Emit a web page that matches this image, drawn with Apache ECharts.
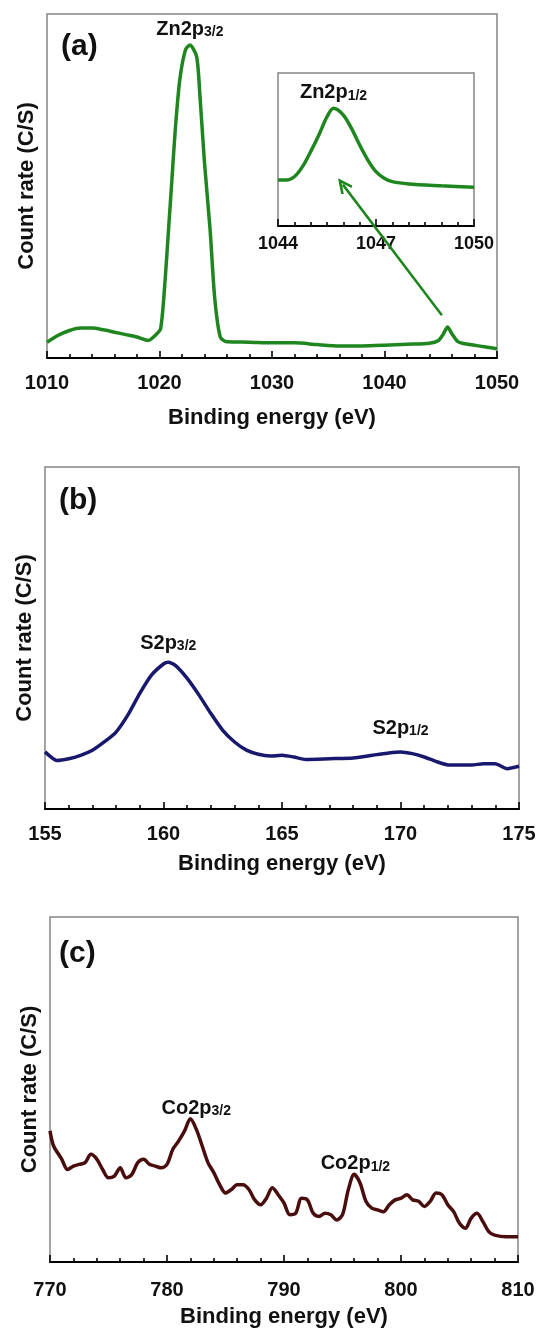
<!DOCTYPE html>
<html>
<head>
<meta charset="utf-8">
<script src="https://cdn.jsdelivr.net/npm/echarts@6/dist/echarts.min.js"></script>
<style>
html,body{margin:0;padding:0;background:#fff;}
#chart{width:542px;height:1329px;}
</style>
</head>
<body>
<div id="chart"></div>
<script>
// ---------- DATA ----------
// (a) Zn 2p survey
const zincX = [1010,1011,1012,1013,1014,1015,1016,1017,1018,1019,1019.6,1020.1,1020.5,1020.8,1021.1,1021.4,1021.8,1022.3,1022.7,1023.3,1023.6,1024.0,1024.5,1024.9,1025.4,1026,1028,1030,1032,1034,1036,1038,1040,1042,1044,1044.8,1045.2,1045.6,1046,1046.5,1047,1048,1049,1050];
const zincY = [4.6,6.6,8.0,8.7,8.7,8.2,7.5,6.8,6.1,5.1,6.5,8.5,22.7,37.2,51.7,66.3,80.8,89.5,91,87.6,76,56.7,37.2,17.7,6.1,4.7,4.6,4.4,4.4,3.9,3.5,3.5,3.7,4.0,4.3,5.1,6.8,9.0,7.0,4.8,4.2,3.7,3.2,2.7];
// (a) inset Zn 2p1/2
const insetX = [1044,1044.25,1044.5,1044.75,1045,1045.25,1045.5,1045.7,1046,1046.25,1046.5,1046.75,1047,1047.25,1047.5,1048,1049,1050];
const insetY = [30.1,30.1,32.2,38.8,48.6,59.5,71.4,76.9,72.5,63.8,52.9,43.1,35.5,31.2,29,27.5,26.3,25.3];
// (b) S 2p
const sulfX = [155,155.5,156,156.5,157,157.5,158,158.5,159,159.5,160,160.2,160.5,161,161.5,162,162.5,163,163.5,164,164.5,165,165.5,166,167,168,169,169.5,170,170.5,171,171.5,172,172.5,173,173.5,174,174.5,175];
const sulfY = [16.7,14.2,14.7,15.7,17.2,19.6,22.5,27.5,33.8,39.2,42.4,42.9,42,38.2,33.3,27.9,23,19.6,17.2,16,15.5,15.7,15.2,14.5,14.7,14.9,15.9,16.4,16.7,16.2,15.2,13.9,12.9,12.9,12.9,13.2,13.2,11.8,12.5];
// (c) Co 2p
const cobX = [770,770.3,771,771.5,772,772.5,773,773.5,774,774.5,775,775.5,776,776.5,777,777.5,778,778.5,779,779.5,780,780.5,781,781.5,782,782.5,783,783.5,784,784.5,785,785.5,786,786.5,787,787.5,788,788.5,789,789.5,790,790.5,791,791.5,792,792.5,793,793.5,794,794.5,795,795.5,796,796.5,797,797.5,798,798.5,799,799.5,800,800.5,801,801.5,802,802.5,803,803.5,804,804.5,805,805.5,806,806.5,807,807.5,808,809,810];
const cobY = [38,33.7,29.8,26.8,27.8,28.3,28.8,31.2,29.8,26.8,24.4,24.9,27.3,24.4,25.4,28.8,29.8,28.3,27.8,27.3,28.3,32.7,35.1,38,41.5,38.5,33.7,28.8,25.9,22.4,20,21,22.4,22.4,21,18,16.6,18.5,21.5,19.5,17.1,13.7,14.1,18.5,18,14.1,13.2,14.1,13.7,12.2,13.7,21,25.4,22.9,17.6,15.6,15.1,14.6,16.6,18,18.5,19.5,18,17.6,16.1,17.6,20,19.5,16.6,14.6,11.2,9.8,12.7,14.1,11.7,8.8,7.8,7.3,7.3];

// axis ranges / ticks
const axisA = {min:1010, max:1050, interval:10, minor:5};
const axisInset = {min:1044, max:1050, interval:3, minor:6};
const axisB = {min:155, max:175, interval:5, minor:5};
const axisC = {min:770, max:810, interval:10, minor:5};

// peak annotations [x, y, main, sub]
const peakA = [1022.7, 95.5, 'Zn2p', '3/2'];
const peakInset = [1045.7, 87, 'Zn2p', '1/2'];
const peaksB = [[160.2, 48.5, 'S2p', '3/2'], [170.0, 23.5, 'S2p', '1/2']];
const peaksC = [[782.5, 44.5, 'Co2p', '3/2'], [796.1, 28.5, 'Co2p', '1/2']];
// arrow in (a): from small peak to inset
const arrowA = [[1045.1, 12.4], [1036.3, 50.4]];

const xTitle = 'Binding energy (eV)';
const yTitle = 'Count rate (C/S)';

// ---------- STYLE ----------
const F = '"Liberation Sans", Arial, Helvetica, sans-serif';
const GREEN = '#1f861f', NAVY = '#18186e', BROWN = '#4a0d0d';

function pairs(xs, ys){ return xs.map((x,i)=>[x, ys[i]]); }

function xAxisCfg(gi, ax, withName, fs, margin, gap){
  return {
    type:'value', gridIndex:gi, min:ax.min, max:ax.max, interval:ax.interval,
    axisLine:{show:true, onZero:false, lineStyle:{color:'#000', width:2}},
    axisTick:{show:true, inside:true, length:7, lineStyle:{color:'#000', width:1.6}},
    minorTick:{show:true, splitNumber:ax.minor, length:4, lineStyle:{color:'#000', width:1.6}},
    axisLabel:{fontSize:fs, fontWeight:'bold', color:'#111', fontFamily:F, margin:margin,
      formatter:function(v){ return String(v); }},
    splitLine:{show:false}, minorSplitLine:{show:false},
    name: withName ? xTitle : '', nameLocation:'middle', nameGap:gap,
    nameTextStyle:{fontSize:22, fontWeight:'bold', color:'#111', fontFamily:F}
  };
}
function yAxisCfg(gi, withName){
  return {
    type:'value', gridIndex:gi, min:0, max:100,
    axisLine:{show:false}, axisTick:{show:false}, axisLabel:{show:false},
    splitLine:{show:false},
    name: withName ? yTitle : '', nameLocation:'middle', nameGap:9, nameRotate:90,
    nameTextStyle:{fontSize:22, fontWeight:'bold', color:'#111', fontFamily:F}
  };
}
const rich = {
  m:{fontSize:20, fontWeight:'bold', color:'#111', fontFamily:F},
  s:{fontSize:14, fontWeight:'bold', color:'#111', fontFamily:F, verticalAlign:'bottom', padding:[6,0,0,0]}
};
function peakPoint(p){
  return {coord:[p[0], p[1]], symbol:'circle', symbolSize:1, itemStyle:{color:'rgba(0,0,0,0)'},
    label:{show:true, position:'inside', formatter:'{m|'+p[2]+'}{s|'+p[3]+'}', rich:rich}};
}
function markPts(list){
  return {silent:true, data:list.map(peakPoint), animation:false};
}

const grids = [
  {left:47, top:14, width:450, height:344},
  {left:278, top:73, width:196, height:153},
  {left:45, top:467, width:474, height:342},
  {left:50, top:917, width:468, height:350}
].map(g => Object.assign({show:true, borderColor:'#858585', borderWidth:1.5, backgroundColor:'transparent', containLabel:false}, g));

const chevron = 'path://M10,0 L20,17 L17,19 L10,7 L3,19 L0,17 Z';

const option = {
  animation:false,
  backgroundColor:'#fff',
  grid:grids,
  xAxis:[xAxisCfg(0, axisA, true, 20, 15, 49), xAxisCfg(1, axisInset, false, 18, 9, 0),
         xAxisCfg(2, axisB, true, 20, 15, 44), xAxisCfg(3, axisC, true, 20, 18, 44)],
  yAxis:[yAxisCfg(0, true), yAxisCfg(1, false), yAxisCfg(2, true), yAxisCfg(3, true)],
  series:[
    {type:'line', xAxisIndex:0, yAxisIndex:0, data:pairs(zincX, zincY), showSymbol:false, smooth:0.25,
     lineStyle:{color:GREEN, width:3.5}, z:5,
     markPoint:markPts([peakA]),
     markLine:{silent:true, animation:false, symbol:['none', chevron], symbolSize:[14,16],
       label:{show:false}, lineStyle:{color:GREEN, width:2.5, type:'solid'},
       data:[[{coord:arrowA[0]}, {coord:arrowA[1]}]], z:20}},
    {type:'line', xAxisIndex:1, yAxisIndex:1, data:pairs(insetX, insetY), showSymbol:false, smooth:0.3,
     lineStyle:{color:GREEN, width:3.5}, z:5, markPoint:markPts([peakInset])},
    {type:'line', xAxisIndex:2, yAxisIndex:2, data:pairs(sulfX, sulfY), showSymbol:false, smooth:0.2,
     lineStyle:{color:NAVY, width:3.5}, z:5, markPoint:markPts(peaksB)},
    {type:'line', xAxisIndex:3, yAxisIndex:3, data:pairs(cobX, cobY), showSymbol:false, smooth:0.3,
     lineStyle:{color:BROWN, width:3.5}, z:5, markPoint:markPts(peaksC)}
  ],
  graphic:[
    {type:'text', left:61, top:32, style:{text:'(a)', font:'bold 30px '+F, fill:'#111'}},
    {type:'text', left:59, top:486, style:{text:'(b)', font:'bold 30px '+F, fill:'#111'}},
    {type:'text', left:59, top:939, style:{text:'(c)', font:'bold 30px '+F, fill:'#111'}}
  ]
};

const chart = echarts.init(document.getElementById('chart'), null, {renderer:'canvas'});
chart.setOption(option);
</script>
</body>
</html>
